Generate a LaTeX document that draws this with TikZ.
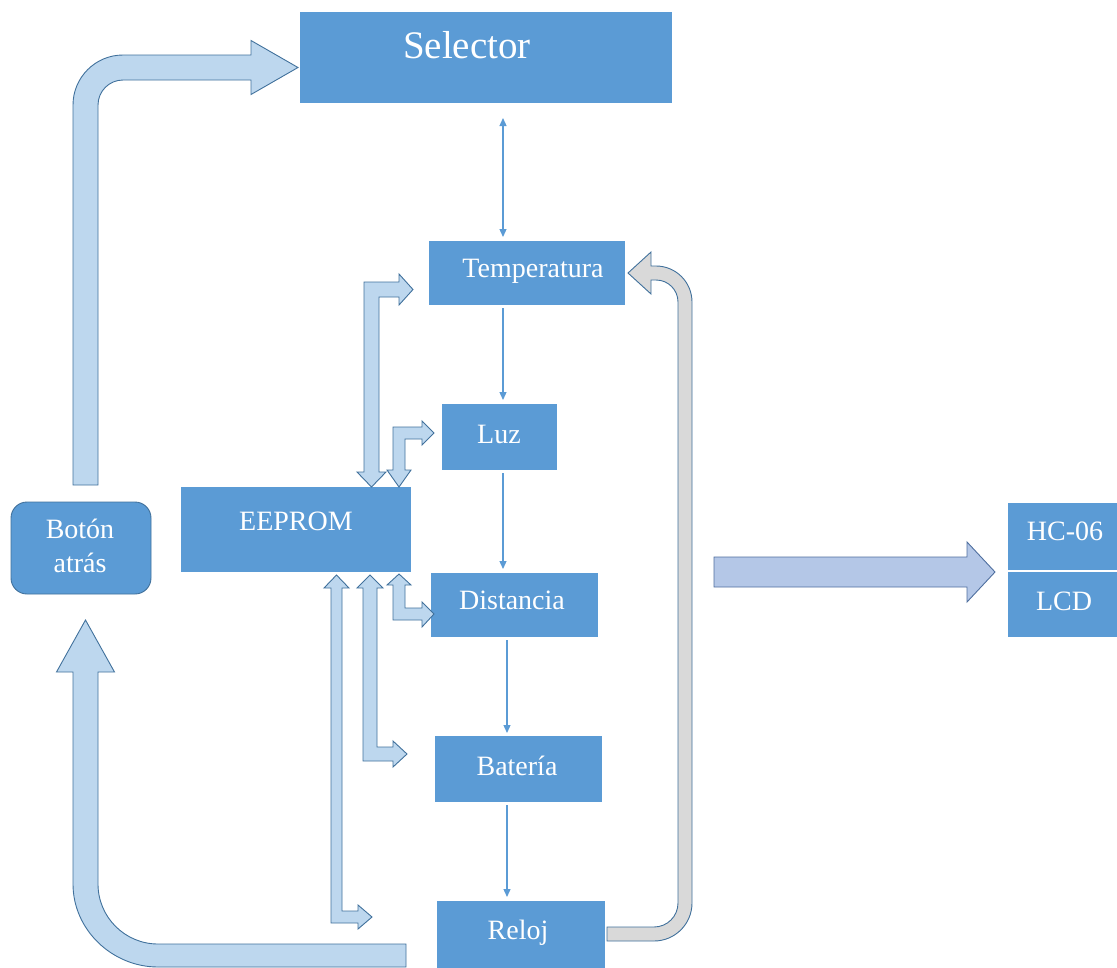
\documentclass[tikz,border=0pt]{standalone}
\usepackage{fontspec}
\setmainfont{Liberation Serif}
\usetikzlibrary{arrows.meta,calc}
\definecolor{boxblue}{HTML}{5B9BD5}
\definecolor{edgeblue}{HTML}{41719C}
\definecolor{paleblue}{HTML}{BDD7EE}
\definecolor{lavblue}{HTML}{B4C7E7}
\definecolor{lavedge}{HTML}{4F6F9F}
\definecolor{arrowgray}{HTML}{D9D9D9}
\begin{document}
\begin{tikzpicture}[x=1pt,y=-1pt,
  box/.style={fill=boxblue, draw=none, inner sep=0pt, outer sep=0pt},
  txt/.style={text=white, anchor=base, inner sep=0pt, font=\fontsize{28}{30}\selectfont},
  link/.style={draw=boxblue, line width=1.3pt, -{Triangle[length=8pt,width=7pt]}},
  twoway/.style={arrows={Triangle[length=8pt,width=7pt]-Triangle[length=8pt,width=7pt]}},
  block/.style={fill=paleblue, draw=edgeblue, line width=0.9pt, line join=miter},
]
\useasboundingbox (0,0) rectangle (1117,967);
\clip (0,0) rectangle (1117,967);

% blocks
\node[box, minimum width=372pt, minimum height=91pt] (sel) at (486,57.5) {};
\node[box, minimum width=196pt, minimum height=64pt] (temp) at (527,273) {};
\node[box, minimum width=115pt, minimum height=66pt] (luz) at (499.5,437) {};
\node[box, minimum width=230pt, minimum height=85pt] (eep) at (296,529.5) {};
\node[box, minimum width=167pt, minimum height=64pt] (dist) at (514.5,605) {};
\node[box, minimum width=167pt, minimum height=66pt] (bat) at (518.5,769) {};
\node[box, minimum width=168pt, minimum height=70pt] (reloj) at (521,936) {};
\node[box, draw=edgeblue, line width=0.9pt, rounded corners=16pt,
      minimum width=140pt, minimum height=92pt] (boton) at (81,548) {};
\node[box, minimum width=112pt, minimum height=67pt] (hc) at (1064,536.5) {};
\node[box, minimum width=112pt, minimum height=65pt] (lcd) at (1064,604.5) {};

% thin flow arrows
\coordinate (colA) at (503,0);
\coordinate (colB) at (507,0);
\draw[link, twoway, shorten <=15pt, shorten >=4pt] (sel.south -| colA) -- (temp.north -| colA);
\draw[link, shorten <=3pt, shorten >=4pt] (temp.south -| colA) -- (luz.north -| colA);
\draw[link, shorten <=3pt, shorten >=4pt] (luz.south -| colA) -- (dist.north -| colA);
\draw[link, shorten <=3pt, shorten >=3pt] (dist.south -| colB) -- (bat.north -| colB);
\draw[link, shorten <=3pt, shorten >=4pt] (bat.south -| colB) -- (reloj.north -| colB);

% back button to selector
\draw[block] (73,485) -- (73,105) .. controls (73,77.4) and (95.4,55) .. (123,55)
  -- (251,55) -- (251,40.5) -- (298,67.5) -- (251,94.5) -- (251,80) -- (123,80)
  .. controls (109.2,80) and (98,91.2) .. (98,105) -- (98,485) -- cycle;

% clock back to back button
\draw[block] (406,944) -- (158,944) .. controls (124.9,944) and (98,917.1) .. (98,884)
  -- (98,672) -- (114.5,672) -- (85.5,620) -- (56.5,672) -- (73,672) -- (73,884)
  .. controls (73,929.8) and (112.2,967) .. (158,967) -- (406,967) -- cycle;

% clock back to temperature
\draw[block, fill=arrowgray] (607,927) -- (654,927) .. controls (667.3,927) and (678,916.3) .. (678,903)
  -- (678,302) .. controls (678,289.8) and (668.2,280) .. (656,280) -- (651,280)
  -- (651,294) -- (628,273) -- (651,252) -- (651,266) -- (656,266)
  .. controls (675.9,266) and (692,282.1) .. (692,302) -- (692,903)
  .. controls (692,924) and (675,941) .. (654,941) -- (607,941) -- cycle;

% output arrow
\draw[block, fill=lavblue, draw=lavedge] (714,557) -- (967,557) -- (967,542) -- (995,572)
  -- (967,602) -- (967,587) -- (714,587) -- cycle;

% EEPROM two-way links
\draw[block] (364,472) -- (364,282) -- (399,282) -- (399,274) -- (413,289.5) -- (399,305)
  -- (399,297) -- (379,297) -- (379,472) -- (386,472) -- (371.5,487) -- (357,472) -- cycle;
\draw[block] (393,470) -- (393,427) -- (422,427) -- (422,421) -- (434,433) -- (422,445)
  -- (422,439) -- (405,439) -- (405,470) -- (411,470) -- (399,487) -- (387,470) -- cycle;
\draw[block] (393,585) -- (393,620) -- (422,620) -- (422,627) -- (434,614) -- (422,602)
  -- (422,608) -- (405,608) -- (405,585) -- (411,585) -- (399,574) -- (387,585) -- cycle;
\draw[block] (363,588) -- (363,761) -- (393,761) -- (393,767) -- (407,754) -- (393,741)
  -- (393,747) -- (377,747) -- (377,588) -- (383,588) -- (370,575) -- (357,588) -- cycle;
\draw[block] (331,588) -- (331,923) -- (358,923) -- (358,929) -- (372,917) -- (358,905)
  -- (358,911) -- (342,911) -- (342,588) -- (349,588) -- (336.5,575) -- (324,588) -- cycle;

% labels
\node[txt, font=\fontsize{39}{42}\selectfont] (sel-t) at (467,58) {Selector};
\node[txt] (temp-t) at (533,277) {Temperatura};
\node[txt] (luz-t) at (499,443) {Luz};
\node[txt] (eep-t) at (296,530) {EEPROM};
\node[txt] (dist-t) at (512,609) {Distancia};
\node[txt] (bat-t) at (517,775) {Batería};
\node[txt] (rel-t) at (518,939) {Reloj};
\node[txt] (bot1) at (80,538) {Botón};
\node[txt] (bot2) at (80,572) {atrás};
\node[txt] (hc-t) at (1065,540) {HC-06};
\node[txt] (lcd-t) at (1064,610) {LCD};
\end{tikzpicture}
\end{document}
